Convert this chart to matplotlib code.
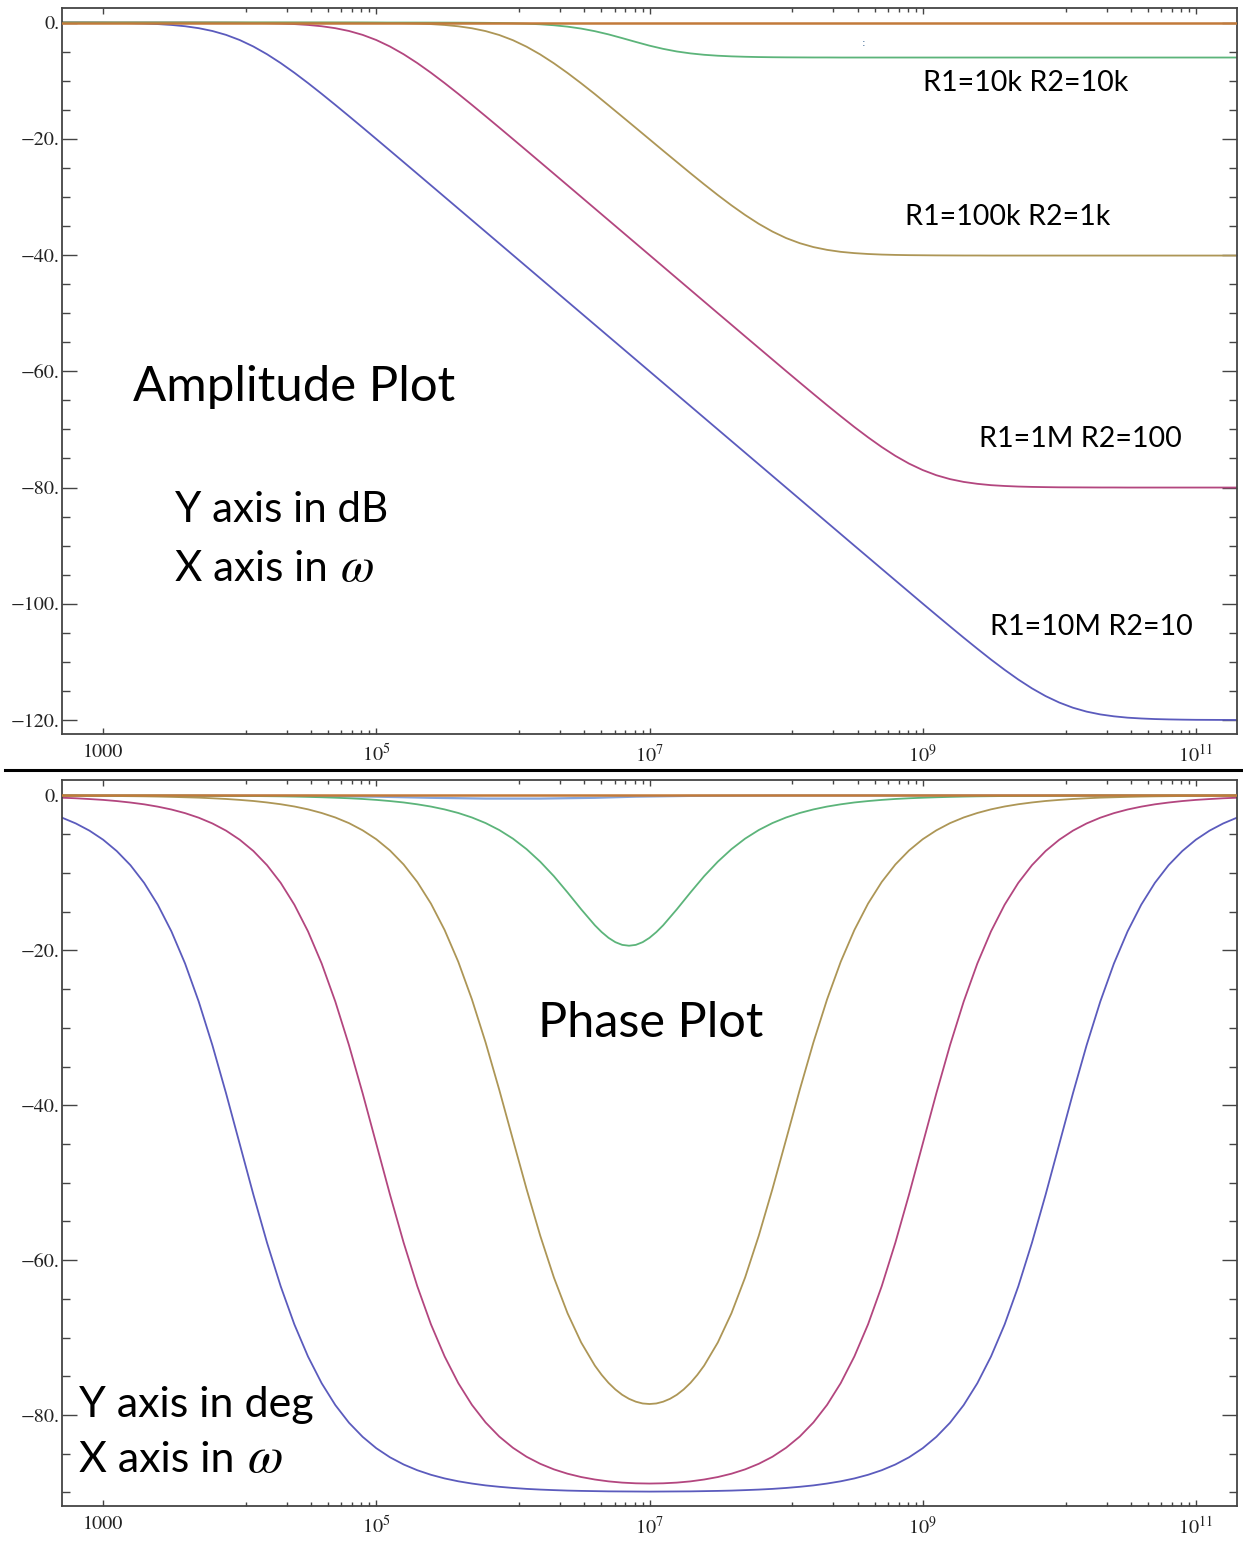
import matplotlib
matplotlib.use("Agg")
import matplotlib.pyplot as plt
import numpy as np
from matplotlib.lines import Line2D
from matplotlib.ticker import FixedLocator

plt.rcParams["mathtext.fontset"] = "stix"

# ---------------- data ----------------
log_w = [2.6, 2.7, 2.8, 2.9, 3.0, 3.1, 3.2, 3.3, 3.4, 3.5,
         3.6, 3.7, 3.8, 3.9, 4.0, 4.1, 4.2, 4.3, 4.4, 4.5,
         4.6, 4.7, 4.8, 4.9, 5.0, 5.1, 5.2, 5.3, 5.4, 5.5,
         5.6, 5.7, 5.8, 5.9, 6.0, 6.1, 6.2, 6.3, 6.4, 6.5,
         6.6, 6.7, 6.8, 6.9, 7.0, 7.1, 7.2, 7.3, 7.4, 7.5,
         7.6, 7.7, 7.8, 7.9, 8.0, 8.1, 8.2, 8.3, 8.4, 8.5,
         8.6, 8.7, 8.8, 8.9, 9.0, 9.1, 9.2, 9.3, 9.4, 9.5,
         9.6, 9.7, 9.8, 9.9, 10.0, 10.1, 10.2, 10.3, 10.4, 10.5,
         10.6, 10.7, 10.8, 10.9, 11.0, 11.1, 11.2, 11.3, 11.4]

series_labels = ["R1=10M R2=10", "R1=1M R2=100", "R1=100k R2=1k", "R1=10k R2=10k"]

amp_10M = [-0.007, -0.011, -0.017, -0.027, -0.043, -0.068, -0.108, -0.170, -0.266, -0.414,
           -0.639, -0.973, -1.455, -2.125, -3.010, -4.125, -5.455, -6.973, -8.639, -10.414,
           -12.266, -14.170, -16.108, -18.068, -20.043, -22.027, -24.017, -26.011, -28.007, -30.004,
           -32.003, -34.002, -36.001, -38.0, -40.0, -42.0, -44.0, -46.0, -48.0, -50.0,
           -52.0, -54.0, -56.0, -58.0, -60.0, -62.0, -64.0, -66.0, -68.0, -70.0,
           -72.0, -74.0, -76.0, -78.0, -80.0, -82.0, -84.0, -86.0, -88.0, -90.0,
           -91.99, -93.99, -95.98, -97.97, -99.96, -101.93, -103.89, -105.83, -107.73, -109.59,
           -111.36, -113.03, -114.55, -115.88, -116.99, -117.88, -118.55, -119.03, -119.36, -119.59,
           -119.73, -119.83, -119.89, -119.93, -119.96, -119.97, -119.98, -119.99, -119.99]

amp_1M = [0.0, 0.0, 0.0, 0.0, 0.0, -0.001, -0.001, -0.002, -0.003, -0.004,
          -0.007, -0.011, -0.017, -0.027, -0.043, -0.068, -0.108, -0.170, -0.266, -0.414,
          -0.639, -0.973, -1.455, -2.125, -3.010, -4.125, -5.455, -6.973, -8.639, -10.414,
          -12.266, -14.170, -16.108, -18.068, -20.043, -22.027, -24.017, -26.011, -28.007, -30.004,
          -32.003, -34.002, -36.001, -38.0, -40.0, -42.0, -44.0, -46.0, -48.0, -50.0,
          -51.99, -53.99, -55.98, -57.97, -59.96, -61.93, -63.89, -65.83, -67.73, -69.59,
          -71.36, -73.03, -74.55, -75.88, -76.99, -77.88, -78.55, -79.03, -79.36, -79.59,
          -79.73, -79.83, -79.89, -79.93, -79.96, -79.97, -79.98, -79.99, -79.99, -80.0,
          -80.0, -80.0, -80.0, -80.0, -80.0, -80.0, -80.0, -80.0, -80.0]

amp_100k = [0.0, 0.0, 0.0, 0.0, 0.0, 0.0, 0.0, 0.0, 0.0, 0.0,
            0.0, 0.0, 0.0, 0.0, 0.0, -0.001, -0.001, -0.002, -0.003, -0.004,
            -0.007, -0.011, -0.017, -0.027, -0.044, -0.069, -0.109, -0.172, -0.270, -0.420,
            -0.648, -0.986, -1.472, -2.147, -3.038, -4.158, -5.49, -7.01, -8.68, -10.46,
            -12.31, -14.24, -16.18, -18.13, -20.09, -22.05, -23.99, -25.93, -27.83, -29.68,
            -31.45, -33.11, -34.63, -35.96, -37.08, -37.96, -38.63, -39.11, -39.45, -39.67,
            -39.82, -39.92, -39.98, -40.02, -40.04, -40.06, -40.07, -40.08, -40.08, -40.09,
            -40.09, -40.09, -40.09, -40.09, -40.09, -40.09, -40.09, -40.09, -40.09, -40.09,
            -40.09, -40.09, -40.09, -40.09, -40.09, -40.09, -40.09, -40.09, -40.09]

amp_10k = [0.0, 0.0, 0.0, 0.0, 0.0, 0.0, 0.0, 0.0, 0.0, 0.0,
           0.0, 0.0, 0.0, 0.0, 0.0, 0.0, 0.0, 0.0, 0.0, 0.0,
           0.0, 0.0, 0.0, -0.001, -0.001, -0.002, -0.003, -0.005, -0.008, -0.013,
           -0.020, -0.032, -0.051, -0.080, -0.126, -0.197, -0.306, -0.469, -0.708, -1.042,
           -1.49, -2.04, -2.68, -3.34, -3.98, -4.53, -4.98, -5.31, -5.55, -5.71,
           -5.82, -5.89, -5.94, -5.97, -5.99, -6.00, -6.01, -6.01, -6.02, -6.02,
           -6.02, -6.02, -6.02, -6.02, -6.02, -6.02, -6.02, -6.02, -6.02, -6.02,
           -6.02, -6.02, -6.02, -6.02, -6.02, -6.02, -6.02, -6.02, -6.02, -6.02,
           -6.02, -6.02, -6.02, -6.02, -6.02, -6.02, -6.02, -6.02, -6.02]

ph_10M = [-2.28, -2.87, -3.61, -4.54, -5.71, -7.18, -9.00, -11.28, -14.10, -17.55,
          -21.70, -26.62, -32.25, -38.46, -45.00, -51.54, -57.75, -63.38, -68.30, -72.45,
          -75.90, -78.72, -81.00, -82.82, -84.29, -85.46, -86.39, -87.13, -87.72, -88.19,
          -88.56, -88.85, -89.09, -89.27, -89.42, -89.54, -89.63, -89.70, -89.76, -89.80,
          -89.83, -89.86, -89.87, -89.88, -89.89, -89.88, -89.87, -89.86, -89.83, -89.80,
          -89.76, -89.70, -89.63, -89.54, -89.42, -89.27, -89.09, -88.85, -88.56, -88.19,
          -87.72, -87.13, -86.39, -85.46, -84.29, -82.82, -81.00, -78.72, -75.90, -72.45,
          -68.30, -63.38, -57.75, -51.54, -45.00, -38.46, -32.25, -26.62, -21.70, -17.55,
          -14.10, -11.28, -9.00, -7.18, -5.71, -4.54, -3.61, -2.87, -2.28]

ph_1M = [-0.23, -0.29, -0.36, -0.46, -0.57, -0.72, -0.91, -1.14, -1.44, -1.81,
         -2.28, -2.87, -3.61, -4.54, -5.71, -7.17, -9.00, -11.28, -14.10, -17.55,
         -21.70, -26.62, -32.25, -38.46, -44.99, -51.53, -57.74, -63.37, -68.29, -72.43,
         -75.88, -78.69, -80.96, -82.78, -84.23, -85.39, -86.30, -87.02, -87.58, -88.01,
         -88.33, -88.57, -88.73, -88.82, -88.85, -88.82, -88.73, -88.57, -88.33, -88.01,
         -87.58, -87.02, -86.30, -85.39, -84.23, -82.78, -80.96, -78.69, -75.88, -72.43,
         -68.29, -63.37, -57.74, -51.53, -44.99, -38.46, -32.25, -26.62, -21.70, -17.55,
         -14.10, -11.28, -9.00, -7.17, -5.71, -4.54, -3.61, -2.87, -2.28, -1.81,
         -1.44, -1.14, -0.91, -0.72, -0.57, -0.46, -0.36, -0.29, -0.23]

ph_100k = [-0.02, -0.03, -0.04, -0.05, -0.06, -0.07, -0.09, -0.11, -0.14, -0.18,
           -0.23, -0.28, -0.36, -0.45, -0.57, -0.71, -0.90, -1.13, -1.42, -1.79,
           -2.26, -2.84, -3.57, -4.50, -5.65, -7.10, -8.91, -11.17, -13.96, -17.37,
           -21.47, -26.33, -31.89, -38.00, -44.43, -50.82, -56.84, -62.24, -66.86, -70.64,
           -73.62, -75.85, -77.39, -78.28, -78.58, -78.28, -77.39, -75.85, -73.62, -70.64,
           -66.86, -62.24, -56.84, -50.82, -44.43, -38.00, -31.89, -26.33, -21.47, -17.37,
           -13.96, -11.17, -8.91, -7.10, -5.65, -4.50, -3.57, -2.84, -2.26, -1.79,
           -1.42, -1.13, -0.90, -0.71, -0.57, -0.45, -0.36, -0.28, -0.23, -0.18,
           -0.14, -0.11, -0.09, -0.07, -0.06, -0.05, -0.04, -0.03, -0.02]
# extra readings around the olive minimum
ph_100k_extra_log_w = [6.65, 6.75, 6.85, 6.95, 7.05, 7.15, 7.25, 7.35]
ph_100k_extra = [-74.82, -76.70, -77.91, -78.51, -78.51, -77.91, -76.70, -74.82]

ph_10k = [-0.00, -0.00, -0.00, -0.01, -0.01, -0.01, -0.01, -0.01, -0.01, -0.02,
          -0.02, -0.03, -0.04, -0.05, -0.06, -0.07, -0.09, -0.11, -0.14, -0.18,
          -0.23, -0.29, -0.36, -0.45, -0.57, -0.72, -0.90, -1.14, -1.43, -1.80,
          -2.26, -2.84, -3.56, -4.46, -5.57, -6.93, -8.55, -10.42, -12.52, -14.70,
          -16.76, -18.38, -19.29, -19.29, -18.38, -16.76, -14.70, -12.52, -10.42, -8.55,
          -6.93, -5.57, -4.46, -3.56, -2.84, -2.26, -1.80, -1.43, -1.14, -0.90,
          -0.72, -0.57, -0.45, -0.36, -0.29, -0.23, -0.18, -0.14, -0.11, -0.09,
          -0.07, -0.06, -0.05, -0.04, -0.03, -0.02, -0.02, -0.01, -0.01, -0.01,
          -0.01, -0.01, -0.00, -0.00, -0.00, -0.00, -0.00, -0.00, -0.00]
# extra readings around the green minimum
ph_10k_extra_log_w = [6.65, 6.75, 6.85, 6.95, 7.05]
ph_10k_extra = [-17.64, -18.94, -19.40, -18.94, -17.64]

# flat reference trace at 0 (both panels)
flat_log_w = [2.6, 11.4]
flat_vals = [0.0, 0.0]

# faint bluish trace just below 0 in the phase panel
faint_log_w = [2.6, 4.5, 5.0, 5.4, 5.8, 6.2, 6.6, 6.9, 7.3, 8.0, 11.4]
faint_vals = [0.0, -0.05, -0.15, -0.3, -0.4, -0.4, -0.3, -0.15, -0.05, 0.0, 0.0]

x_major = [1e3, 1e5, 1e7, 1e9, 1e11]
x_major_labels = ["1000", r"$10^{5}$", r"$10^{7}$", r"$10^{9}$", r"$10^{11}$"]
amp_yticks = [0, -20, -40, -60, -80, -100, -120]
amp_ylabels = ["0.", "\u221220.", "\u221240.", "\u221260.", "\u221280.", "\u2212100.", "\u2212120."]
ph_yticks = [0, -20, -40, -60, -80]
ph_ylabels = ["0.", "\u221220.", "\u221240.", "\u221260.", "\u221280."]

# ---------------- figure ----------------
W, H = 1243, 1552
fig = plt.figure(figsize=(W / 100, H / 100), dpi=100)
fig.patch.set_facecolor("white")

def fx(px):
    return px / W

def fy(py):
    return 1 - py / H

ax_amp = fig.add_axes([fx(62), fy(734), fx(1237) - fx(62), fy(8) - fy(734)])
ax_ph = fig.add_axes([fx(62), fy(1506), fx(1237) - fx(62), fy(780) - fy(1506)])

colors = ["#5b5bbd", "#b3467f", "#ad9656", "#5cb47a"]
flat_color = "#c27a3a"
faint_color = "#86a6dc"


def merged(lx, ly, ex=(), ey=()):
    pts = sorted(zip(list(lx) + list(ex), list(ly) + list(ey)))
    xs = 10 ** np.array([p[0] for p in pts])
    ys = np.array([p[1] for p in pts])
    return xs, ys


amp_series = [amp_10M, amp_1M, amp_100k, amp_10k]
ph_series = [(ph_10M, [], []), (ph_1M, [], []),
             (ph_100k, ph_100k_extra_log_w, ph_100k_extra),
             (ph_10k, ph_10k_extra_log_w, ph_10k_extra)]

for vals, c, lab in zip(amp_series, colors, series_labels):
    xs, ys = merged(log_w, vals)
    ax_amp.plot(xs, ys, color=c, lw=1.3, label=lab, solid_joinstyle="round")
xs, ys = merged(flat_log_w, flat_vals)
ax_amp.plot(xs, ys, color=flat_color, lw=1.8, zorder=5)

xs, ys = merged(faint_log_w, faint_vals)
ax_ph.plot(xs, ys, color=faint_color, lw=1.6)
for (vals, ex, ey), c, lab in zip(ph_series, colors, series_labels):
    xs, ys = merged(log_w, vals, ex, ey)
    ax_ph.plot(xs, ys, color=c, lw=1.3, label=lab, solid_joinstyle="round")
xs, ys = merged(flat_log_w, flat_vals)
ax_ph.plot(xs, ys, color=flat_color, lw=1.8, zorder=5)

x_minor = [M * k / 9 for M in (1e5, 1e7, 1e9, 1e11) for k in range(1, 9)]


def style(ax, ylim, yt, ylab):
    ax.set_xscale("log")
    ax.set_xlim(500, 2e11)
    ax.set_ylim(*ylim)
    ax.set_xticks(x_major)
    ax.set_xticklabels(x_major_labels)
    ax.xaxis.set_minor_locator(FixedLocator(x_minor))
    ax.xaxis.set_minor_formatter(plt.NullFormatter())
    ax.set_yticks(yt)
    ax.set_yticklabels(ylab)
    ax.yaxis.set_minor_locator(FixedLocator(np.arange(0, ylim[0] - 5, -5)))
    ax.tick_params(axis="both", which="both", direction="in", top=True, right=True,
                   color="#444444", width=1.0)
    ax.tick_params(axis="y", which="major", length=10.5, pad=2)
    ax.tick_params(axis="y", which="minor", length=6)
    ax.tick_params(axis="x", which="major", length=4.3, pad=7)
    ax.tick_params(axis="x", which="minor", length=2.8)
    for lab in ax.get_xticklabels() + ax.get_yticklabels():
        lab.set_fontfamily("STIXGeneral")
        lab.set_fontsize(14.5)
        lab.set_color("#222222")
    for s in ax.spines.values():
        s.set_color("#444444")
        s.set_linewidth(1.3)


style(ax_amp, (-122.4, 2.5), amp_yticks, amp_ylabels)
style(ax_ph, (-91.75, 2.0), ph_yticks, ph_ylabels)

# separator line
fig.add_artist(Line2D([fx(5), 1.0], [fy(770), fy(770)], transform=fig.transFigure,
                      color="black", lw=2.2))

# annotations
tf = "Lato"
fig.text(fx(133), fy(401), "Amplitude Plot", fontsize=35.4, family=tf, va="baseline")
fig.text(fx(175), fy(522), "Y axis in dB", fontsize=30.3, family=tf, va="baseline")
fig.text(fx(175), fy(581), "X axis in", fontsize=30.3, family=tf, va="baseline")
fig.text(fx(340), fy(581), r"$\omega$", fontsize=35, va="baseline")
fig.text(fx(923), fy(91), "R1=10k R2=10k", fontsize=20.6, family=tf, va="baseline")
fig.text(fx(905), fy(225), "R1=100k R2=1k", fontsize=20.6, family=tf, va="baseline")
fig.text(fx(979), fy(447), "R1=1M R2=100", fontsize=20.6, family=tf, va="baseline")
fig.text(fx(990), fy(635), "R1=10M R2=10", fontsize=20.6, family=tf, va="baseline")
fig.text(fx(862), fy(46), ":", fontsize=8, color="#2a5a8a", va="baseline")

fig.text(fx(538), fy(1037), "Phase Plot", fontsize=35, family=tf, va="baseline")
fig.text(fx(79), fy(1417), "Y axis in deg", fontsize=31, family=tf, va="baseline")
fig.text(fx(79), fy(1472), "X axis in", fontsize=31, family=tf, va="baseline")
fig.text(fx(247), fy(1472), r"$\omega$", fontsize=37, va="baseline")

fig.savefig("out.png", dpi=100)
